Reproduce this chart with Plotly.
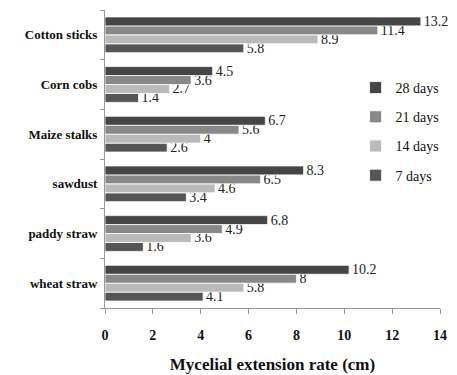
import plotly.graph_objects as go

categories = ["wheat straw", "paddy straw", "sawdust", "Maize stalks", "Corn cobs", "Cotton sticks"]
series_names = ["7 days", "14 days", "21 days", "28 days"]
days7 = [4.1, 1.6, 3.4, 2.6, 1.4, 5.8]
days14 = [5.8, 3.6, 4.6, 4, 2.7, 8.9]
days21 = [8, 4.9, 6.5, 5.6, 3.6, 11.4]
days28 = [10.2, 6.8, 8.3, 6.7, 4.5, 13.2]
x_ticks = [0, 2, 4, 6, 8, 10, 12, 14]

colors = ["#555555", "#bababa", "#888888", "#454545"]
values = [days7, days14, days21, days28]
ranks = [4, 3, 2, 1]

fig = go.Figure()
for name, vals, col, rk in zip(series_names, values, colors, ranks):
    fig.add_trace(go.Bar(
        y=categories, x=vals, name=name, orientation="h",
        marker=dict(color=col, line=dict(color="white", width=0.8)),
        text=[str(v) for v in vals], textposition="outside",
        constraintext="none", cliponaxis=False,
        textfont=dict(family="Liberation Serif", size=14, color="#222"),
        legendgroup=name, legendrank=rk,
    ))

fig.update_layout(
    width=457, height=375,
    margin=dict(l=105, r=17, t=10, b=67),
    barmode="group", bargap=0.28, bargroupgap=0,
    plot_bgcolor="white", paper_bgcolor="white",
    font=dict(family="Liberation Serif", color="#111"),
    legend=dict(
        x=0.748, y=0.792, xanchor="left", yanchor="top",
        traceorder="grouped", tracegroupgap=8, itemwidth=30,
        font=dict(family="Liberation Serif", size=14, color="#111"),
        bgcolor="rgba(0,0,0,0)",
    ),
    xaxis=dict(
        range=[0, 14], tickvals=x_ticks, ticktext=[f"<b>{t}</b>" for t in x_ticks],
        showgrid=False, zeroline=False, showline=True, linecolor="#999", linewidth=1,
        ticks="outside", ticklen=5, tickcolor="#999", ticklabelstandoff=9,
        tickfont=dict(family="Liberation Serif", size=14, color="#111"),
        title=dict(text="<b>Mycelial extension rate (cm)</b>",
                   font=dict(family="Liberation Serif", size=17, color="#111"), standoff=16),
        automargin=False,
    ),
    yaxis=dict(
        categoryorder="array", categoryarray=categories,
        tickvals=categories, ticktext=[f"<b>{c}</b>" for c in categories],
        showgrid=False, showline=True, linecolor="#999", linewidth=1,
        ticks="outside", ticklen=4, tickcolor="#999", tickson="boundaries",
        tickfont=dict(family="Liberation Serif", size=13, color="#111"),
        ticklabelstandoff=4, automargin=False,
    ),
)

# remove the default page margin so the figure sits at the window's top-left corner
fig.write_html("out.html", config={"displayModeBar": False},
               post_script="document.body.style.margin='0';")
